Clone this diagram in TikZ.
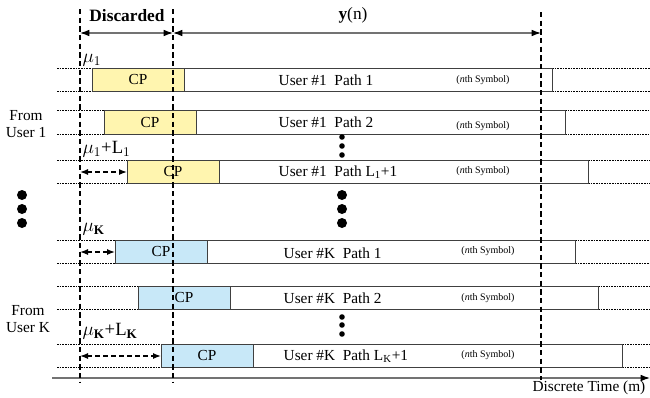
\documentclass[tikz,border=0pt]{standalone}
\usepackage{fontspec}
\setmainfont{Liberation Serif}
\usetikzlibrary{arrows.meta}

\definecolor{cpyellow}{RGB}{255,245,175}
\definecolor{cpblue}{RGB}{200,232,248}

\tikzset{
  bound/.style={line width=1.3pt, dash pattern=on 4pt off 2.5pt},
  guide/.style={line width=0.5pt, dash pattern=on 1.2pt off 0.8pt},
  symbox/.style={draw=black!75, fill=white, line width=0.7pt},
  cpy/.style={symbox, fill=cpyellow},
  cpb/.style={symbox, fill=cpblue},
  span/.style={draw=black!55, line width=0.9pt,
    {Latex[color=black,length=7pt,width=5pt]}-{Latex[color=black,length=7pt,width=5pt]}},
  offset/.style={line width=1pt, dash pattern=on 3.5pt off 2.5pt,
    {Latex[length=6pt,width=4.5pt]}-{Latex[length=6pt,width=4.5pt]}},
  sym/.style={font=\fontsize{7.5}{9}\selectfont},
  lab/.style={font=\fontsize{14}{16}\selectfont, inner sep=1pt}
}

\begin{document}
\begin{tikzpicture}[x=0.75pt, y=-0.75pt, font=\fontsize{11.5}{13}\selectfont]
    \useasboundingbox (0,0) rectangle (650,397);

    % headings and the two spans
    \node[font=\bfseries\fontsize{13}{15}\selectfont] (disc) at (127,16) {Discarded};
    \node[font=\fontsize{13}{15}\selectfont] (yn) at (353,15) {\textbf{y}(n)};
    \coordinate (a1) at (80,33);
    \coordinate (a2) at (173,33);
    \coordinate (a3) at (541,33);
    \draw[span] (a1) -- (a2);
    \draw[span] (a2) -- (a3);

    % user 1, path 1
    \draw[guide] (57,68) -- (92,68) (57,91) -- (92,91) (552,68) -- (650,68) (552,91) -- (650,91);
    \draw[symbox] (184,68) rectangle (552,91);
    \draw[cpy] (92,68) rectangle (184,91) node[midway] (cp1) {CP};
    \node[anchor=west] (u1) at (274,80) {User \#1\ \ Path 1};
    \node[sym] (s1) at (483,80) {(\textit{n}th Symbol)};
    \node[lab, anchor=west] (m1) at (81,60) {$\mu_1$};

    % user 1, path 2
    \draw[guide] (57,110) -- (104,110) (57,134) -- (104,134) (565,110) -- (650,110) (565,134) -- (650,134);
    \draw[symbox] (196,110) rectangle (565,134);
    \draw[cpy] (104,110) rectangle (196,134) node[midway] (cp2) {CP};
    \node[anchor=west] (u2) at (274,122) {User \#1\ \ Path 2};
    \node[sym] (s2) at (483,126) {(\textit{n}th Symbol)};
    \node (from1) at (26,124) [align=center] {From\\User 1};
    \fill (342,137) circle (2.8) (342,146) circle (2.8) (342,155) circle (2.8);

    % user 1, path L1+1
    \draw[guide] (57,160) -- (127,160) (57,183) -- (127,183) (588,160) -- (650,160) (588,183) -- (650,183);
    \draw[symbox] (219,160) rectangle (588,183);
    \draw[cpy] (127,160) rectangle (219,183) node[midway] (cp3) {CP};
    \node[anchor=west] (u3) at (274,172) {User \#1\ \ Path L\textsubscript{1}+1};
    \node[sym] (s3) at (483,171) {(\textit{n}th Symbol)};
    \node[lab, anchor=west] (m3) at (81,149) {$\mu_1$+L$_1$};
    \draw[offset] (80,172) -- (127,172);

    \fill (22,195) circle (5) (22,209) circle (5) (22,223) circle (5);
    \fill (342,195) circle (5) (342,209) circle (5) (342,223) circle (5);

    % user K, path 1
    \draw[guide] (57,240) -- (115,240) (57,263) -- (115,263) (575,240) -- (650,240) (575,263) -- (650,263);
    \draw[symbox] (207,240) rectangle (575,263);
    \draw[cpb] (115,240) rectangle (207,263) node[midway] (cp4) {CP};
    \node[anchor=west] (u4) at (279,253) {User \#K\ \ Path 1};
    \node[sym] (s4) at (488,251) {(\textit{n}th Symbol)};
    \node[lab, anchor=west] (m4) at (81,229) {$\mu_{\mathbf{K}}$};
    \draw[offset] (80,252) -- (115,252);

    % user K, path 2
    \draw[guide] (57,286) -- (138,286) (57,309) -- (138,309) (598,286) -- (650,286) (598,309) -- (650,309);
    \draw[symbox] (230,286) rectangle (598,309);
    \draw[cpb] (138,286) rectangle (230,309) node[midway] (cp5) {CP};
    \node[anchor=west] (u5) at (279,298) {User \#K\ \ Path 2};
    \node[sym] (s5) at (488,298) {(\textit{n}th Symbol)};
    \node (fromK) at (28,319) [align=center] {From\\User K};
    \fill (342,317) circle (2.8) (342,325) circle (2.8) (342,334) circle (2.8);

    % user K, path LK+1
    \draw[guide] (57,344) -- (161,344) (57,367) -- (161,367) (622,344) -- (650,344) (622,367) -- (650,367);
    \draw[symbox] (253,344) rectangle (622,367);
    \draw[cpb] (161,344) rectangle (253,367) node[midway] (cp6) {CP};
    \node[anchor=west] (u6) at (279,356) {User \#K\ \ Path L\textsubscript{K}+1};
    \node[sym] (s6) at (488,355) {(\textit{n}th Symbol)};
    \node[lab, anchor=west] (m6) at (81,331) {$\mu_{\mathbf{K}}$+L$_{\mathbf{K}}$};
    \draw[offset] (80,356) -- (161,356);

    % time axis
    \coordinate (t0) at (52,378);
    \coordinate (t1) at (650,378);
    \draw[draw=black!55, line width=0.9pt, -{Latex[color=black,length=7pt,width=5pt]}] (t0) -- (t1);
    \node[anchor=east] (time) at (650,388) {Discrete Time (m)};

    % boundaries
    \coordinate (d1t) at (80,9);   \coordinate (d1b) at (80,382);
    \coordinate (d2t) at (173,9);  \coordinate (d2b) at (173,382);
    \coordinate (d3t) at (541,12); \coordinate (d3b) at (541,380);
    \draw[bound] (d1t) -- (d1b);
    \draw[bound] (d2t) -- (d2b);
    \draw[bound] (d3t) -- (d3b);

\end{tikzpicture}
\end{document}
